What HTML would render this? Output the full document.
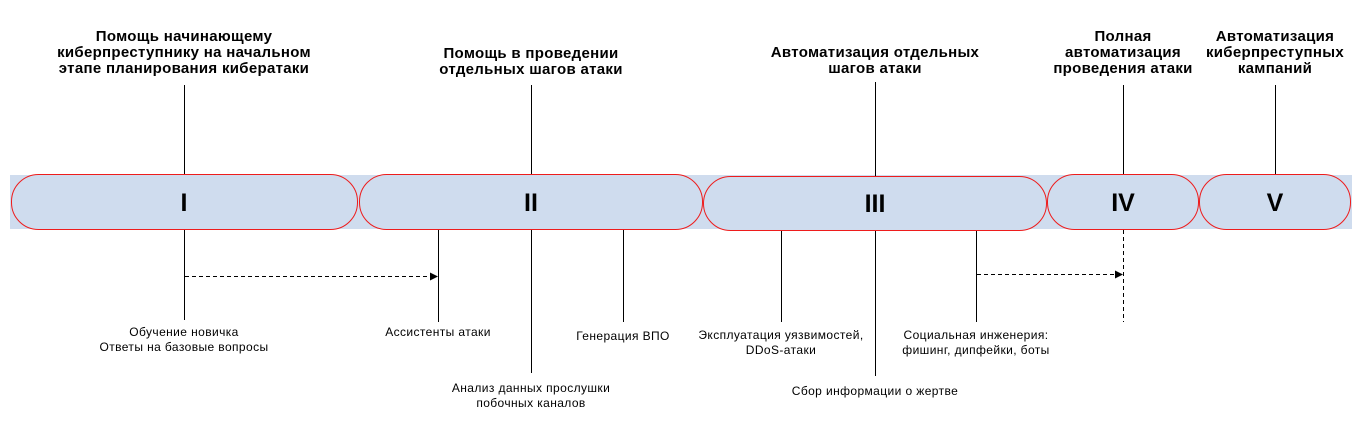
<!DOCTYPE html>
<html><head><meta charset="utf-8"><style>
html,body{margin:0;padding:0;background:#fff;width:1362px;height:429px;overflow:hidden}
svg{display:block}
.t{font-family:"Liberation Sans","Noto Sans CJK SC",sans-serif;font-weight:bold;font-size:15px;letter-spacing:0.3px;fill:#000;text-anchor:middle}
.l{font-family:"Liberation Sans","Noto Sans CJK SC",sans-serif;font-size:12px;letter-spacing:0.4px;fill:#000;text-anchor:middle}
.r{font-family:"Liberation Sans",sans-serif;font-weight:bold;font-size:25px;fill:#000;text-anchor:middle}
.p{fill:#cfdcee;stroke:#ee1c1c;stroke-width:1}
line{stroke:#000;stroke-width:1}
</style></head><body>
<svg width="1362" height="429" viewBox="0 0 1362 429">
<defs><marker id="a" markerWidth="8" markerHeight="8" refX="7" refY="4" orient="auto" markerUnits="userSpaceOnUse"><path d="M0,0 L8,4 L0,8z" fill="#000"/></marker></defs>
<rect x="10" y="175" width="1342" height="54" fill="#cfdcee"/>
<rect class="p" x="11.5" y="174.5" width="346" height="55" rx="27"/>
<rect class="p" x="359.5" y="174.5" width="343" height="55" rx="27"/>
<rect class="p" x="703.5" y="176.5" width="343" height="54" rx="27"/>
<rect class="p" x="1047.5" y="174.5" width="151" height="55" rx="27"/>
<rect class="p" x="1199.5" y="174.5" width="151" height="55" rx="27"/>
<text class="r" x="184" y="211">I</text>
<text class="r" x="531" y="211">II</text>
<text class="r" x="875" y="212">III</text>
<text class="r" x="1123" y="211">IV</text>
<text class="r" x="1275" y="211">V</text>
<line x1="184.5" y1="85" x2="184.5" y2="174"/>
<line x1="531.5" y1="85" x2="531.5" y2="174"/>
<line x1="875.5" y1="82" x2="875.5" y2="176"/>
<line x1="1123.5" y1="85" x2="1123.5" y2="174"/>
<line x1="1275.5" y1="85" x2="1275.5" y2="174"/>
<line x1="184.5" y1="230" x2="184.5" y2="320"/>
<line x1="438.5" y1="230" x2="438.5" y2="322"/>
<line x1="531.5" y1="230" x2="531.5" y2="373"/>
<line x1="623.5" y1="230" x2="623.5" y2="322"/>
<line x1="781.5" y1="231" x2="781.5" y2="322"/>
<line x1="875.5" y1="231" x2="875.5" y2="376"/>
<line x1="976.5" y1="231" x2="976.5" y2="322"/>
<line x1="1123.5" y1="230" x2="1123.5" y2="322" stroke-dasharray="4,3"/>
<line x1="185" y1="276.5" x2="437" y2="276.5" stroke-dasharray="4,3" marker-end="url(#a)"/>
<line x1="977" y1="274.5" x2="1122" y2="274.5" stroke-dasharray="4,3" marker-end="url(#a)"/>
<text class="t" x="184" y="41">Помощь начинающему</text>
<text class="t" x="184" y="57">киберпреступнику на начальном</text>
<text class="t" x="184" y="73">этапе планирования кибератаки</text>
<text class="t" x="531" y="58">Помощь в проведении</text>
<text class="t" x="531" y="74">отдельных шагов атаки</text>
<text class="t" x="875" y="57">Автоматизация отдельных</text>
<text class="t" x="875" y="73">шагов атаки</text>
<text class="t" x="1123" y="41">Полная</text>
<text class="t" x="1123" y="57">автоматизация</text>
<text class="t" x="1123" y="73">проведения атаки</text>
<text class="t" x="1275" y="41">Автоматизация</text>
<text class="t" x="1275" y="57">киберпреступных</text>
<text class="t" x="1275" y="73">кампаний</text>
<text class="l" x="184" y="336">Обучение новичка</text>
<text class="l" x="184" y="351">Ответы на базовые вопросы</text>
<text class="l" x="438" y="336">Ассистенты атаки</text>
<text class="l" x="623" y="340">Генерация ВПО</text>
<text class="l" x="531" y="392">Анализ данных прослушки</text>
<text class="l" x="531" y="407">побочных каналов</text>
<text class="l" x="781" y="339">Эксплуатация уязвимостей,</text>
<text class="l" x="781" y="354">DDoS-атаки</text>
<text class="l" x="875" y="395">Сбор информации о жертве</text>
<text class="l" x="976" y="339">Социальная инженерия:</text>
<text class="l" x="976" y="354">фишинг, дипфейки, боты</text>
</svg>
</body></html>
